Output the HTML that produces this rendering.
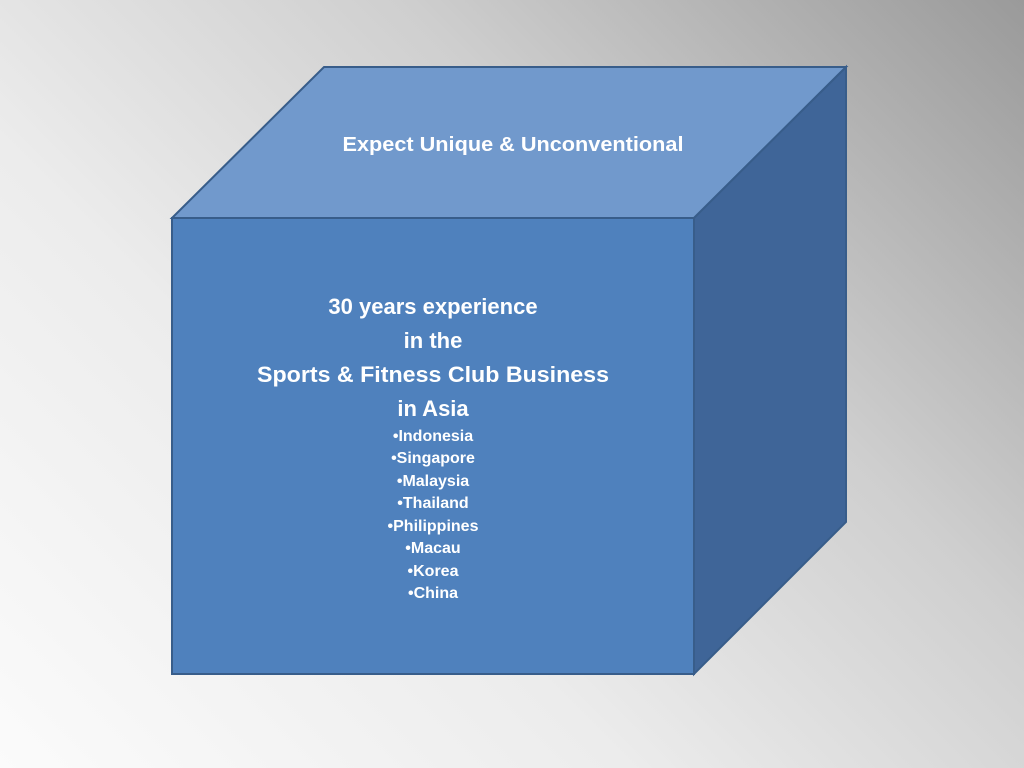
<!DOCTYPE html>
<html><head><meta charset="utf-8"><style>
html,body{margin:0;padding:0;width:1024px;height:768px;overflow:hidden}
body{background:linear-gradient(225deg,#9a9a9a 0%,#cfcfcf 35%,#ececec 65%,#fbfbfb 100%);}
svg{position:absolute;left:0;top:0}
text{font-family:"Liberation Sans",sans-serif;font-weight:bold;fill:#fff;text-anchor:middle}
</style></head><body>
<svg width="1024" height="768" viewBox="0 0 1024 768">
<polygon points="172,218 324,67 846,67 694,218" fill="#7199cc" stroke="#385d8a" stroke-width="2"/>
<polygon points="694,218 846,67 846,522 694,674" fill="#3f6598" stroke="#385d8a" stroke-width="2"/>
<rect x="172" y="218" width="522" height="456" fill="#4f81bd" stroke="#385d8a" stroke-width="2"/>
<text x="513" y="151" font-size="20" textLength="341" lengthAdjust="spacingAndGlyphs">Expect Unique &amp; Unconventional</text>
<text x="433" y="314" font-size="22">30 years experience</text>
<text x="433" y="348" font-size="22">in the</text>
<text x="433" y="382" font-size="22" textLength="352" lengthAdjust="spacingAndGlyphs">Sports &amp; Fitness Club Business</text>
<text x="433" y="416" font-size="22">in Asia</text>
<g font-size="16">
<text x="433" y="441">•Indonesia</text>
<text x="433" y="463">•Singapore</text>
<text x="433" y="486">•Malaysia</text>
<text x="433" y="508">•Thailand</text>
<text x="433" y="531">•Philippines</text>
<text x="433" y="553">•Macau</text>
<text x="433" y="576">•Korea</text>
<text x="433" y="598">•China</text>
</g>
</svg>
</body></html>
